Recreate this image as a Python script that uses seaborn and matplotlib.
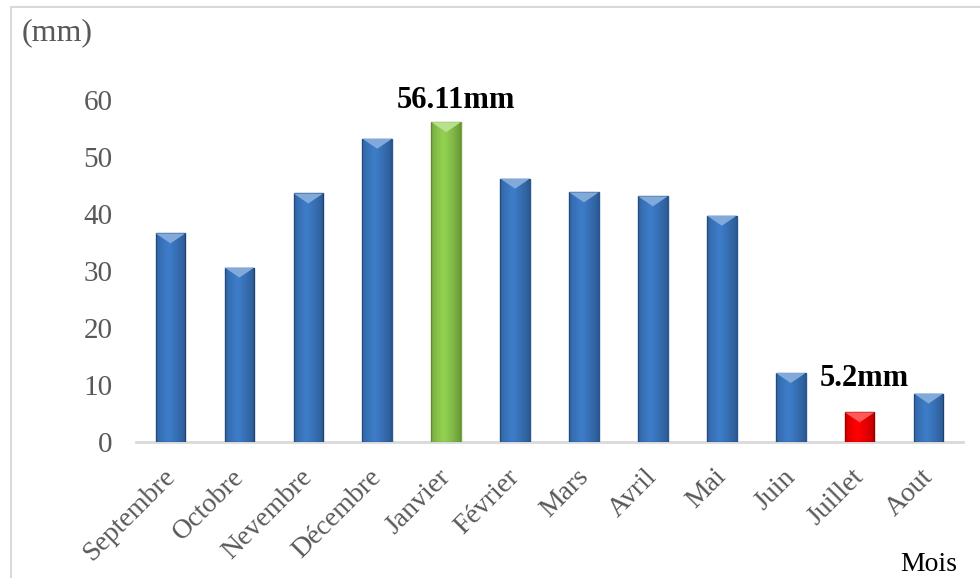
import numpy as np
import pandas as pd
import matplotlib.pyplot as plt
import matplotlib.patches as mpatches
import matplotlib.colors as mcolors
import matplotlib.transforms as mtransforms
import seaborn as sns

months = ['Septembre', 'Octobre', 'Nevembre', 'Décembre', 'Janvier', 'Février',
          'Mars', 'Avril', 'Mai', 'Juin', 'Juillet', 'Aout']
rain_mm = [36.6, 30.6, 43.6, 53.2, 56.11, 46.2, 43.8, 43.1, 39.7, 12.1, 5.2, 8.5]
bar_colors = ['#3d7cc8'] * 12
bar_colors[4] = '#92d050'
bar_colors[10] = '#ff0000'
edge_colors = ['#2a5a94'] * 12
edge_colors[4] = '#76a83c'
edge_colors[10] = '#c00000'

df = pd.DataFrame({'mois': months, 'pluie': rain_mm})

sns.set_style('white')
plt.rcParams['font.family'] = ['Liberation Serif', 'DejaVu Serif']

fig = plt.figure(figsize=(9.8, 5.78), dpi=100)
ax = fig.add_axes([0.1388, 0.2353, 0.8439, 0.5917])

sns.barplot(data=df, x='mois', y='pluie', hue='mois', palette=bar_colors,
            legend=False, width=0.43, ax=ax, saturation=1)

ax.set_xlim(-0.5, 11.5)
ax.set_ylim(0, 60)

# bevel-like shading: darker sides and a light chevron at the top of every bar
grad = np.linspace(0, 1, 64)
shade = np.zeros((2, 64, 4))
shade[..., 3] = 0.55 * np.abs(grad - 0.42) ** 1.3
px_per_unit = ax.bbox.height / 60.0
for bar, ec, fc in zip(list(ax.patches), edge_colors, bar_colors):
    bar.set_edgecolor(ec)
    bar.set_linewidth(1)
    x0, y0 = bar.get_x(), bar.get_y()
    w, h = bar.get_width(), bar.get_height()
    im = ax.imshow(shade, extent=[x0, x0 + w, y0, y0 + h], aspect='auto',
                   interpolation='bilinear', zorder=bar.get_zorder() + 0.1)
    im.set_clip_path(bar)
    light = mcolors.to_rgb(fc)
    light = tuple(c + (1 - c) * 0.35 for c in light)
    d = min(10 / px_per_unit, h * 0.6)
    tri = mpatches.Polygon([(x0, y0 + h), (x0 + w, y0 + h), (x0 + w / 2, y0 + h - d)],
                           closed=True, facecolor=light, edgecolor='none',
                           zorder=bar.get_zorder() + 0.2)
    ax.add_patch(tri)

ax.set_yticks([0, 10, 20, 30, 40, 50, 60])
ax.tick_params(axis='y', labelsize=21, labelcolor='#595959', length=0, pad=17)
ax.tick_params(axis='x', labelsize=20, labelcolor='#595959', length=0, pad=16)
shift = mtransforms.ScaledTranslation(-6 / 72, 0, fig.dpi_scale_trans)
for lbl in ax.get_xticklabels():
    lbl.set_rotation(45)
    lbl.set_ha('right')
    lbl.set_rotation_mode('anchor')
    lbl.set_transform(lbl.get_transform() + shift)
ax.set_xlabel('')
ax.set_ylabel('')

for side in ['top', 'right', 'left']:
    ax.spines[side].set_visible(False)
ax.spines['bottom'].set_color('#d9d9d9')
ax.spines['bottom'].set_linewidth(2)
ax.spines['bottom'].set_zorder(0.5)

ax.annotate(f'{rain_mm[4]:g}mm', (4, rain_mm[4]), xytext=(7, 5), textcoords='offset points',
            ha='center', va='bottom', fontsize=22, fontweight='bold', color='black',
            annotation_clip=False)
ax.annotate(f'{rain_mm[10]:g}mm', (10, rain_mm[10]), xytext=(3, 14), textcoords='offset points',
            ha='center', va='bottom', fontsize=22, fontweight='bold', color='black',
            annotation_clip=False)

fig.text(0.022, 0.943, '(mm)', fontsize=23, color='#595959', va='center', ha='left')
fig.text(0.977, 0.024, 'Mois', fontsize=20, color='#000000', va='center', ha='right')

fig.patches.append(mpatches.Rectangle((0.011, -0.1), 1.1, 1.088, transform=fig.transFigure,
                                      fill=False, edgecolor='#d9d9d9', linewidth=1.5))

fig.savefig('out.png', dpi=100)
